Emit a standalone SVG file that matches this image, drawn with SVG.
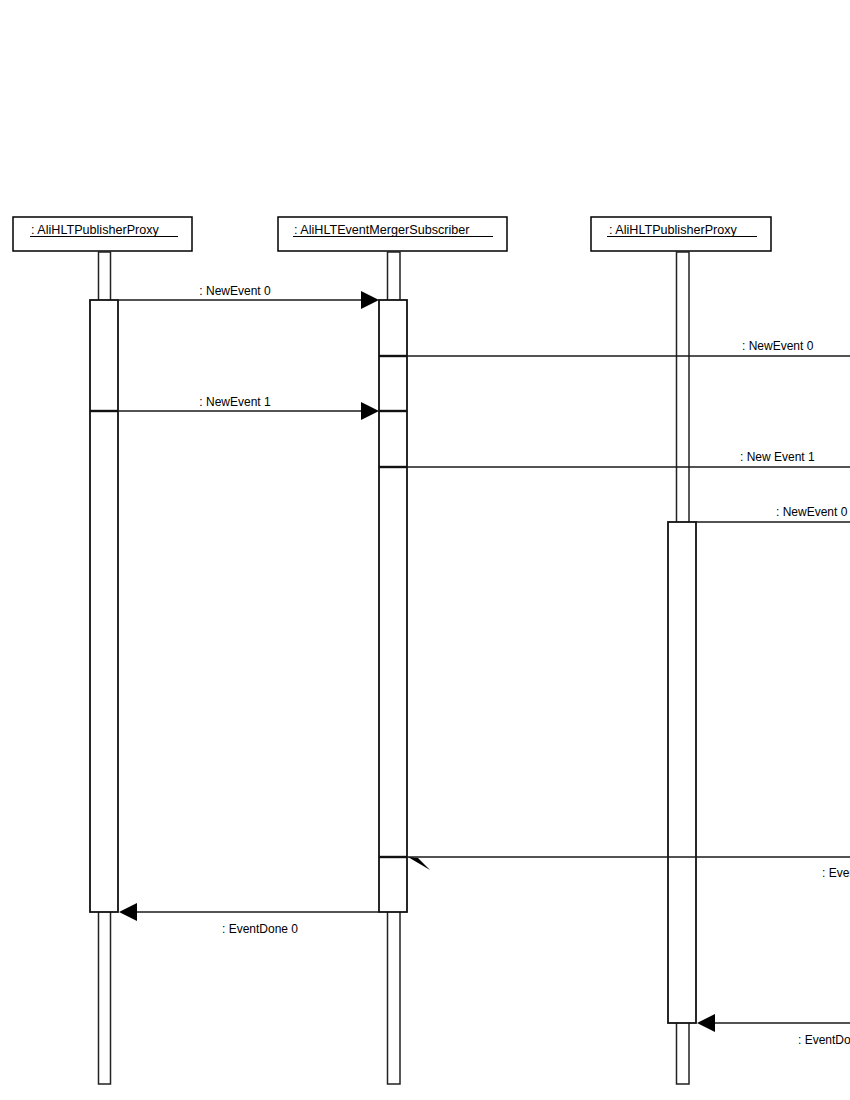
<svg xmlns="http://www.w3.org/2000/svg" width="850" height="1100" viewBox="0 0 850 1100">
<style>
text{font-family:"Liberation Sans",Arial,sans-serif;font-size:12px;fill:#000}
text.obj{font-size:12.6px}
.box{fill:#fff;stroke:#000;stroke-width:1.5}
.life{fill:#fff;stroke:#222;stroke-width:1.5}
.act{fill:#fff;stroke:#111;stroke-width:1.8}
.ul{stroke:#000;stroke-width:1}
.msg{stroke:#1a1a1a;stroke-width:1.3;fill:none}
.sep{stroke:#111;stroke-width:2.4}
.head{fill:#000}
</style>
<rect width="850" height="1100" fill="#fff"/>
<g id="obj1">
<rect class="box" x="13" y="217" width="179" height="34"/>
<text class="obj" x="31" y="234">: AliHLTPublisherProxy</text>
<line class="ul" x1="30" y1="236.5" x2="178" y2="236.5"/>
<rect class="life" x="98.5" y="252" width="12" height="832"/>
<rect class="act" x="90" y="300" width="28" height="612"/>
<line class="sep" x1="90" y1="411" x2="118" y2="411"/>
</g>
<g id="obj2">
<rect class="box" x="278" y="217" width="229" height="34"/>
<text class="obj" x="294" y="234">: AliHLTEventMergerSubscriber</text>
<line class="ul" x1="293" y1="236.5" x2="493" y2="236.5"/>
<rect class="life" x="387.5" y="252" width="12.5" height="832"/>
<rect class="act" x="379" y="300" width="28" height="612"/>
<line class="sep" x1="379" y1="356" x2="407" y2="356"/>
<line class="sep" x1="379" y1="411" x2="407" y2="411"/>
<line class="sep" x1="379" y1="467" x2="407" y2="467"/>
<line class="sep" x1="379" y1="857" x2="407" y2="857"/>
</g>
<g id="obj3">
<rect class="box" x="591" y="217" width="180" height="34"/>
<text class="obj" x="609" y="234">: AliHLTPublisherProxy</text>
<line class="ul" x1="607" y1="236.5" x2="757" y2="236.5"/>
<rect class="life" x="676.5" y="252" width="12.5" height="832"/>
<rect class="act" x="668" y="522" width="28" height="501"/>
</g>
<g id="connectors">
<line class="msg" x1="118" y1="300" x2="362" y2="300"/>
<polygon class="head" points="379,300 361,291 361,309"/>
<text x="235" y="295" text-anchor="middle">: NewEvent 0</text>
<line class="msg" x1="407" y1="356" x2="850" y2="356"/>
<text x="742" y="350">: NewEvent 0</text>
<line class="msg" x1="118" y1="411" x2="362" y2="411"/>
<polygon class="head" points="379,411 361,402 361,420"/>
<text x="235" y="406" text-anchor="middle">: NewEvent 1</text>
<line class="msg" x1="407" y1="467" x2="850" y2="467"/>
<text x="740" y="461">: New Event 1</text>
<line class="msg" x1="696" y1="522" x2="850" y2="522"/>
<text x="776" y="516">: NewEvent 0</text>
<line class="msg" x1="407" y1="857" x2="850" y2="857"/>
<polygon class="head" points="408,857 430,870 418,858"/>
<text x="822" y="877">: EventDone 1</text>
<line class="msg" x1="136" y1="912" x2="379" y2="912"/>
<polygon class="head" points="119,912 137,903 137,921"/>
<text x="260" y="933" text-anchor="middle">: EventDone 0</text>
<line class="msg" x1="714" y1="1023" x2="850" y2="1023"/>
<polygon class="head" points="697,1023 715,1014 715,1032"/>
<text x="798" y="1044">: EventDone 0</text>
</g>
</svg>
